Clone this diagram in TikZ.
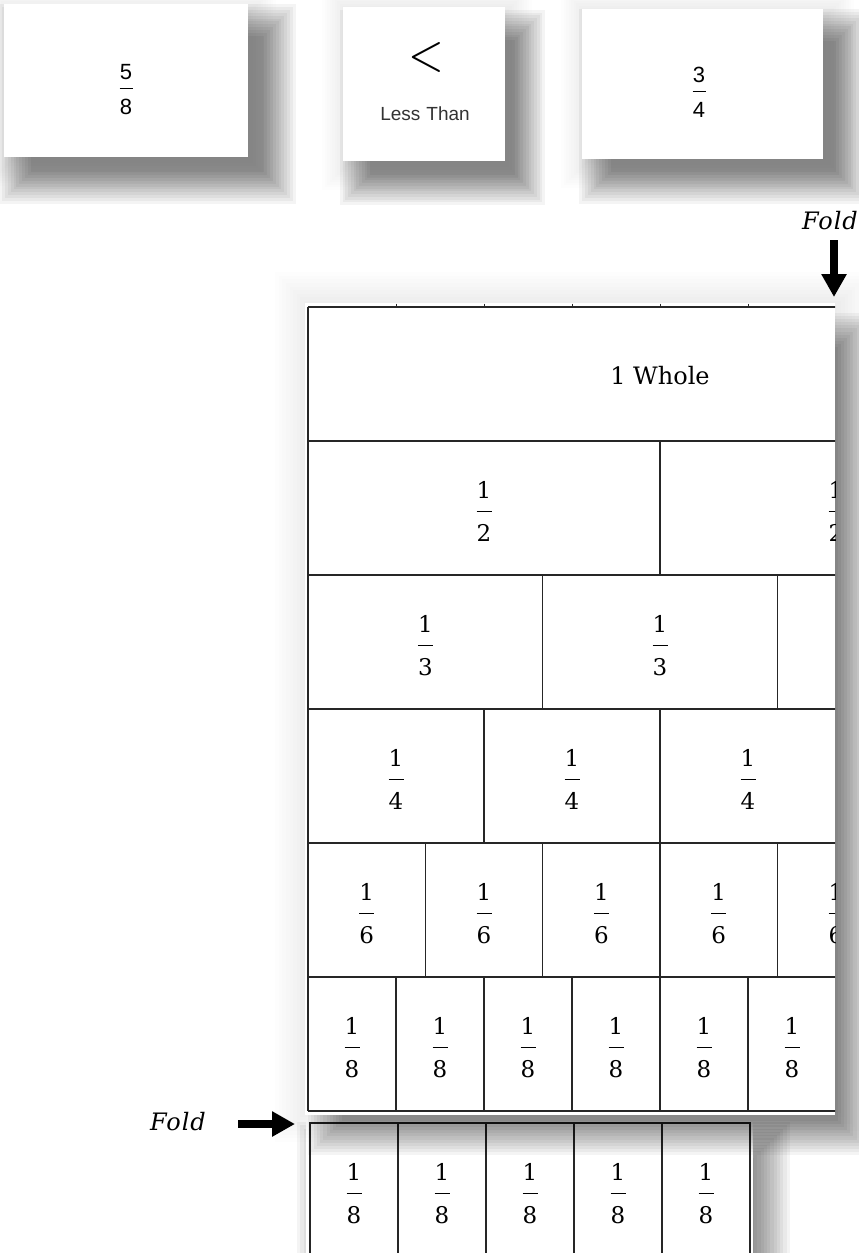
\documentclass[tikz,border=0pt]{standalone}
\usepackage{fontspec}
\usepackage{graphicx}
\usetikzlibrary{arrows.meta}
\newfontfamily\stripfont{DejaVu Serif}
\newfontfamily\foldfont[LetterSpace=4]{DejaVu Serif}
\newfontfamily\cardfont{Liberation Sans}
\newfontfamily\lessfont{Liberation Sans}

\newcommand\fr[2]{\vbox{\offinterlineskip\halign{\hfil##\hfil\cr
  \vrule width0pt height18pt depth12.5pt#1\cr
  \vrule width15pt height1.3pt depth0pt\cr
  \vrule width0pt height29pt depth0pt#2\cr}}}
\newcommand\cfr[2]{\vbox{\offinterlineskip\halign{\hfil##\hfil\cr
  \vrule width0pt height16.5pt depth8.5pt#1\cr
  \vrule width13pt height1.3pt depth0pt\cr
  \vrule width0pt height25.5pt depth0pt#2\cr}}}

\newcommand\softshadow[6]{%
  \foreach \k in {0,...,11}{%
    \pgfmathsetmacro\shd{#5-\k*#5*2/11}%
    \fill[black,fill opacity=#6] ({#1-(\shd)},{#2-(\shd)}) rectangle ({#3+(\shd)},{#4+(\shd)});
  }}

\begin{document}
\begin{tikzpicture}[x=1pt,y=-1pt,
  stripline/.style={line width=1.2pt,draw=black!85},
  tick/.style={line width=1pt,draw=black!85},
  cell/.style={font=\stripfont\fontsize{23}{23}\selectfont,inner sep=0pt},
  cardnum/.style={font=\cardfont\fontsize{22}{22}\selectfont,inner sep=0pt},
  foldlabel/.style={font=\foldfont\itshape\fontsize{24}{24}\selectfont,inner sep=0pt},
  foldarrow/.style={line width=7.5pt,-{Triangle[width=24pt,length=23pt]}}]
\useasboundingbox (0,0) rectangle (859,1253);
\fill[white] (0,0) rectangle (859,1253);

% ---------- cards ----------
\softshadow{0}{0}{262}{172}{14}{0.006}
\softshadow{15}{20}{280}{188}{16}{0.042}
\softshadow{336}{0}{518}{176}{14}{0.006}
\softshadow{355}{25}{530}{190}{15}{0.042}
\softshadow{575}{2}{840}{174}{14}{0.006}
\softshadow{595}{25}{852}{188}{16}{0.042}
\fill[white] (4,4) rectangle (248,157);
\fill[white] (343,7) rectangle (505,161);
\fill[white] (582,9) rectangle (823,159);
\node[cardnum] (c1) at (126,89) {\cfr{5}{8}};
\node[inner sep=0pt] (lt) at (426,57) {\scalebox{4.6}[5.2]{$<$}};
\node[inner sep=0pt,font=\lessfont\fontsize{19}{19}\selectfont,text=black!80] (ltlabel) at (425,114) {Less\hspace{6pt}Than};
\node[cardnum] (c3) at (699,92) {\cfr{3}{4}};

% ---------- folded bottom strip ----------
\softshadow{315}{1140}{772}{1320}{18}{0.042}
\fill[white] (306,1119) rectangle (753,1260);
\draw[stripline] (310,1260) -- (310,1123) -- (750,1123) -- (750,1260);
\foreach \x in {398,486,574,662} \draw[stripline] (\x,1123) -- (\x,1260);
\foreach \x [count=\i] in {354,442,530,618,706} \node[cell] (b\i) at (\x,1193) {\fr{1}{8}};

% ---------- shadow of main strip ----------
\softshadow{295}{292}{850}{1122}{20}{0.006}
\softshadow{325}{330}{855}{1138}{17}{0.042}

% ---------- main strip ----------
\fill[white] (305,303) rectangle (835,1115);
\begin{scope}
\clip (300,298) rectangle (835,1116);
\foreach \y in {307,441,575,709,843,977,1111} \draw[stripline] (308,\y) -- (840,\y);
\draw[stripline] (308,307) -- (308,1111);
\foreach \x in {396,484,572,660,748} \draw[tick] (\x,303.5) -- (\x,307);
\draw[stripline] (660,441) -- (660,575);
\foreach \x in {542.67,777.33} \draw[stripline] (\x,575) -- (\x,709);
\foreach \x in {484,660} \draw[stripline] (\x,709) -- (\x,843);
\foreach \x in {425.33,542.67,660,777.33} \draw[stripline] (\x,843) -- (\x,977);
\foreach \x in {396,484,572,660,748} \draw[stripline] (\x,977) -- (\x,1111);
\node[cell,font=\stripfont\fontsize{24}{24}\selectfont] (whole) at (660,376) {1 Whole};
\foreach \x [count=\i] in {484,836} \node[cell] (h\i) at (\x,511) {\fr{1}{2}};
\foreach \x [count=\i] in {425.33,660} \node[cell] (t\i) at (\x,645) {\fr{1}{3}};
\foreach \x [count=\i] in {396,572,748} \node[cell] (q\i) at (\x,779) {\fr{1}{4}};
\foreach \x [count=\i] in {366.67,484,601.33,718.67,836} \node[cell] (s\i) at (\x,913) {\fr{1}{6}};
\foreach \x [count=\i] in {352,440,528,616,704,792} \node[cell] (e\i) at (\x,1047) {\fr{1}{8}};
\end{scope}

% ---------- fold marks ----------
\node[foldlabel] (ftop) at (830,221) {Fold};
\coordinate (ftopA) at (834,240);
\coordinate (ftopB) at (834,297);
\draw[foldarrow] (ftopA) -- (ftopB);
\node[foldlabel] (fbot) at (178,1122) {Fold};
\coordinate (fbotA) at (238,1124);
\coordinate (fbotB) at (295,1124);
\draw[foldarrow] (fbotA) -- (fbotB);
\end{tikzpicture}
\end{document}
